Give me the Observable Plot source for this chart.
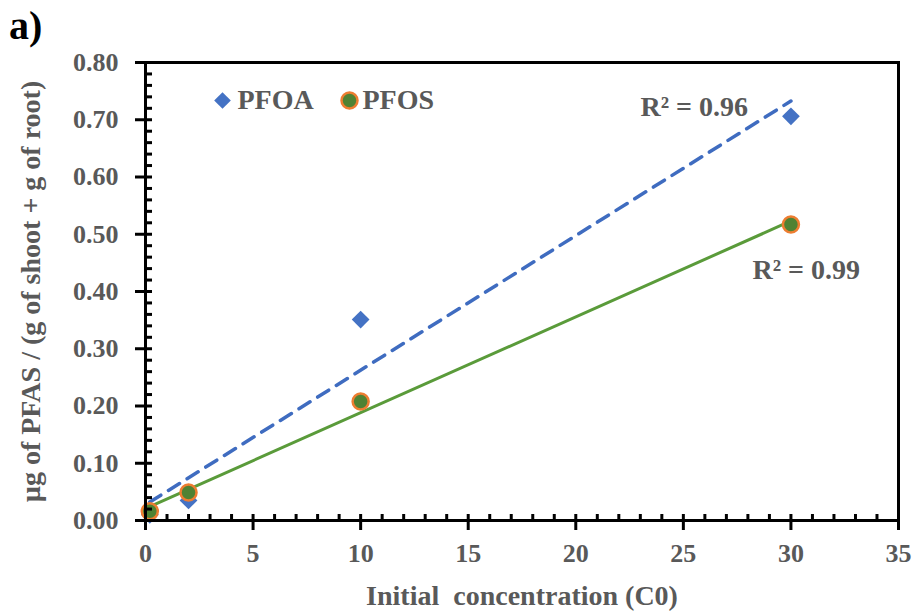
<!DOCTYPE html>
<html>
<head>
<meta charset="utf-8">
<script src="https://cdn.jsdelivr.net/npm/d3@7"></script>
<script src="https://cdn.jsdelivr.net/npm/@observablehq/plot@0.6"></script>
<style>
  html, body { margin: 0; padding: 0; background: white; }
  #wrap { position: relative; width: 922px; height: 612px; }
  #tag { position: absolute; left: 9px; top: 2px; font: bold 40px "Liberation Serif", serif; color: #000; }
</style>
</head>
<body>
<div id="wrap"><div id="tag">a)</div></div>
<script>
// ---- data ----
const seriesNames = ["PFOA", "PFOS"];
const concentration = [0.2, 2, 10, 30];
const pfoaValues = [0.010, 0.035, 0.351, 0.706];
const pfosValues = [0.016, 0.049, 0.208, 0.517];
const rSquared = ["0.96", "0.99"];
const xTicks = [0, 5, 10, 15, 20, 25, 30, 35];
const yTicks = [0, 0.1, 0.2, 0.3, 0.4, 0.5, 0.6, 0.7, 0.8];
const xMinorTicks = d3.range(0, 36, 1);
const yMinorTicks = d3.range(0, 0.801, 0.02);
const xLabel = "Initial  concentration (C0)";
const yLabel = "µg of PFAS / (g of shoot + g of root)";

const pfoa = concentration.map((c, i) => ({x: c, y: pfoaValues[i]}));
const pfos = concentration.map((c, i) => ({x: c, y: pfosValues[i]}));

const gray = "#595959";
const blue = "#4472C4";
const orange = "#ED7D31";
const greenFill = "#4F8233";
const greenLine = "#5A9B3A";
const font = "Liberation Serif";

const plot = Plot.plot({
  width: 922,
  height: 612,
  marginLeft: 145,
  marginRight: 24,
  marginTop: 62,
  marginBottom: 92,
  style: {fontFamily: font, fontWeight: "bold", fontSize: "26px", background: "transparent"},
  x: {domain: [0, 35]},
  y: {domain: [0, 0.8]},
  marks: [
    // regression lines
    Plot.linearRegressionY(pfoa, {x: "x", y: "y", ci: 0, stroke: "#3F6CC0", strokeWidth: 3.5, strokeDasharray: "13,9"}),
    Plot.linearRegressionY(pfos, {x: "x", y: "y", ci: 0, stroke: greenLine, strokeWidth: 3}),
    // points
    Plot.dot(pfoa, {x: "x", y: "y", symbol: "diamond2", r: 8, fill: blue, stroke: "none"}),
    Plot.dot(pfos, {x: "x", y: "y", symbol: "circle", r: 8, fill: greenFill, stroke: orange, strokeWidth: 2.5}),
    // frame
    Plot.frame({stroke: "black", strokeWidth: 3}),
    // x ticks
    Plot.axisX({ticks: xTicks, tickSize: 10, text: null, label: null, stroke: "black", strokeWidth: 3}),
    Plot.axisX({ticks: xMinorTicks, tickSize: -6, text: null, label: null, stroke: "black", strokeWidth: 3}),
    Plot.axisX({ticks: xTicks, tickSize: 0, tickPadding: 23, label: null, fill: gray, color: gray, fontSize: 26, fontWeight: "bold", tickFormat: d => String(d)}),
    // y ticks
    Plot.axisY({ticks: yTicks, tickSize: 10, text: null, label: null, stroke: "black", strokeWidth: 3}),
    Plot.axisY({ticks: yMinorTicks, tickSize: -7, text: null, label: null, stroke: "black", strokeWidth: 3}),
    Plot.axisY({ticks: yTicks, tickSize: 0, tickPadding: 27, label: null, fill: gray, color: gray, fontSize: 26, fontWeight: "bold", tickFormat: d3.format(".2f")}),
    // axis titles
    Plot.text([xLabel], {frameAnchor: "bottom", dy: 76, lineAnchor: "middle", textAnchor: "middle", fill: gray, fontSize: 28, fontWeight: "bold"}),
    Plot.text([yLabel], {frameAnchor: "left", rotate: -90, dx: -114, lineAnchor: "middle", textAnchor: "middle", fill: gray, fontSize: 28, fontWeight: "bold"}),
    // legend
    Plot.dot([seriesNames[0]], {frameAnchor: "top-left", dx: 77, dy: 38, symbol: "diamond2", r: 7.5, fill: blue}),
    Plot.text([seriesNames[0]], {frameAnchor: "top-left", dx: 92, dy: 38, textAnchor: "start", lineAnchor: "middle", fill: gray, fontSize: 28, fontWeight: "bold"}),
    Plot.dot([seriesNames[1]], {frameAnchor: "top-left", dx: 204, dy: 38, symbol: "circle", r: 8, fill: greenFill, stroke: orange, strokeWidth: 2.5}),
    Plot.text([seriesNames[1]], {frameAnchor: "top-left", dx: 217, dy: 38, textAnchor: "start", lineAnchor: "middle", fill: gray, fontSize: 28, fontWeight: "bold"}),
    // R² labels
    Plot.text([`R² = ${rSquared[0]}`], {frameAnchor: "top-left", dx: 495, dy: 45, textAnchor: "start", lineAnchor: "middle", fill: gray, fontSize: 28, fontWeight: "bold"}),
    Plot.text([`R² = ${rSquared[1]}`], {frameAnchor: "top-left", dx: 607, dy: 208, textAnchor: "start", lineAnchor: "middle", fill: gray, fontSize: 28, fontWeight: "bold"})
  ]
});
document.getElementById("wrap").prepend(plot);
</script>
</body>
</html>
